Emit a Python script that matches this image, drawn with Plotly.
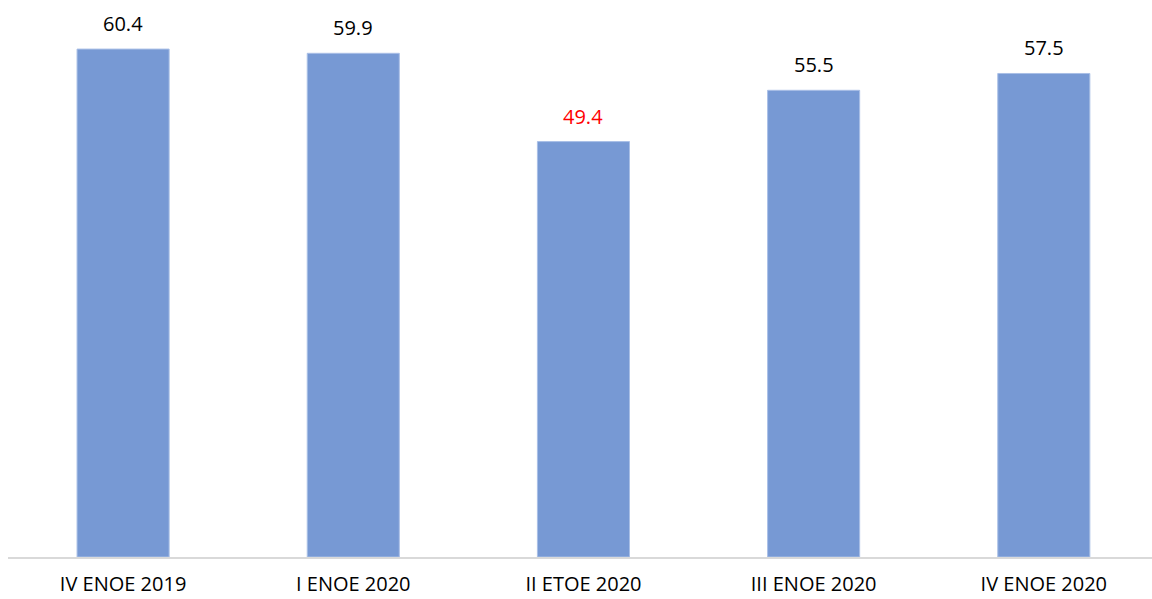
import plotly.graph_objects as go

categories = ["IV ENOE 2019", "I ENOE 2020", "II ETOE 2020", "III ENOE 2020", "IV ENOE 2020"]
values = [60.4, 59.9, 49.4, 55.5, 57.5]
label_colors = ["#000000", "#000000", "#ff0000", "#000000", "#000000"]

fig = go.Figure()
fig.add_trace(go.Bar(
    x=list(range(len(categories))), y=values,
    marker=dict(color="#7799d4", line=dict(color="#a9bfe6", width=1)),
    width=0.4,
    hoverinfo="skip",
))

for i, (v, c) in enumerate(zip(values, label_colors)):
    fig.add_annotation(x=i, y=v, text=f"{v:.1f}", showarrow=False,
                       yanchor="bottom", yshift=10,
                       font=dict(family="Open Sans", size=20, color=c))

fig.update_layout(
    width=1152, height=599,
    margin=dict(l=8, r=0, t=2, b=42, autoexpand=False),
    plot_bgcolor="white", paper_bgcolor="white",
    showlegend=False,
    font=dict(family="Open Sans", size=20, color="#000000"),
    xaxis=dict(
        range=[-0.5, 4.47],
        tickmode="array",
        tickvals=list(range(len(categories))),
        ticktext=categories,
        showline=True, linecolor="#d9d9d9", linewidth=2,
        showgrid=False, zeroline=False, ticks="",
        ticklabelstandoff=8, automargin=False,
        tickfont=dict(family="Open Sans", size=20, color="#000000"),
    ),
    yaxis=dict(range=[0, 66], visible=False, showgrid=False, zeroline=False, automargin=False),
)

fig.write_html("out.html")
